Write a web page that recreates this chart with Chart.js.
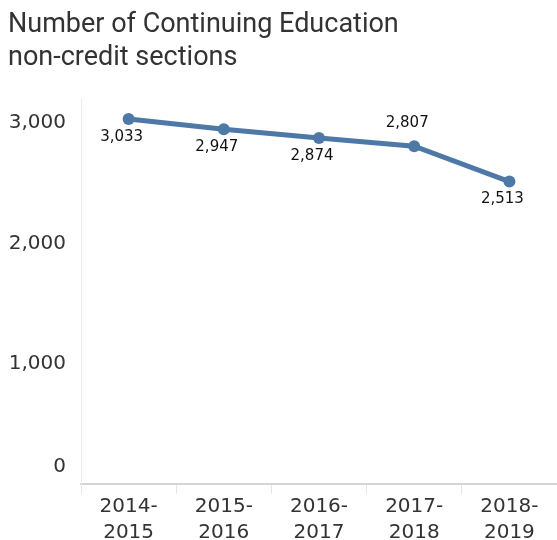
<!DOCTYPE html>
<html>
<head>
<meta charset="utf-8">
<script src="https://cdn.jsdelivr.net/npm/chart.js@4.4.1/dist/chart.umd.min.js"></script>
<style>
  html, body { margin: 0; padding: 0; background: #fff; }
  #wrap { width: 557px; height: 540px; }
</style>
</head>
<body>
<div id="wrap"><canvas id="sectionsChart"></canvas></div>
<script>
const years = [['2014-', '2015'], ['2015-', '2016'], ['2016-', '2017'], ['2017-', '2018'], ['2018-', '2019']];
const sections = [3033, 2947, 2874, 2807, 2513];
// label above (-1) or below (1) the point
const labelSide = [1, 1, 1, -1, 1];
const yTicks = [0, 1000, 2000, 3000];

const blue = '#4e79a7';
const textColor = '#333333';
const tickFont = '"DejaVu Sans", sans-serif';

// draws the value labels and the lifted "0" tick
const valueLabels = {
    id: 'valueLabels',
    afterDatasetsDraw(chart) {
        const ctx = chart.ctx;
        const meta = chart.getDatasetMeta(0);
        ctx.save();
        ctx.font = '15px ' + tickFont;
        ctx.fillStyle = '#111';
        ctx.textAlign = 'center';
        ctx.textBaseline = 'middle';
        meta.data.forEach(function(pt, i) {
            const dy = labelSide[i] > 0 ? 18 : -23;
            ctx.fillText(sections[i].toLocaleString('en-US'), pt.x - 7, pt.y + dy);
        });
        const y = chart.scales.y;
        ctx.font = '20px ' + tickFont;
        ctx.fillStyle = textColor;
        ctx.textAlign = 'right';
        ctx.textBaseline = 'middle';
        ctx.fillText('0', y.right - 15, y.getPixelForValue(0) - 17);
        ctx.restore();
    }
};

const ctx = document.getElementById('sectionsChart').getContext('2d');
const chart = new Chart(ctx, {
    type: 'line',
    data: {
        labels: years,
        datasets: [{
            data: sections,
            borderColor: blue,
            backgroundColor: blue,
            borderWidth: 5,
            pointRadius: 6,
            pointHoverRadius: 6,
            pointBorderWidth: 0,
            tension: 0
        }]
    },
    options: {
        responsive: true,
        maintainAspectRatio: false,
        animation: false,
        layout: { autoPadding: false, padding: { left: 8, right: 0, top: 0, bottom: 0 } },
        plugins: {
            legend: { display: false },
            tooltip: { enabled: false },
            title: {
                display: true,
                align: 'start',
                text: ['Number of Continuing Education', 'non-credit sections'],
                color: textColor,
                font: { family: 'Roboto', size: 27, weight: 'normal', lineHeight: 1.22 },
                padding: { top: 9, bottom: 24 }
            }
        },
        scales: {
            x: {
                offset: true,
                grid: {
                    offset: true,
                    drawOnChartArea: false,
                    color: '#e6e6e6',
                    tickLength: 10
                },
                border: { color: '#d4d4d4', width: 2 },
                ticks: {
                    color: textColor,
                    font: { family: tickFont, size: 20, lineHeight: 1.3 },
                    padding: 0,
                    maxRotation: 0
                },
                afterFit(scale) { scale.height = 56; }
            },
            y: {
                min: 0,
                max: 3200,
                grid: { display: false, drawTicks: false },
                border: { color: '#ececec', width: 1 },
                ticks: {
                    color: textColor,
                    font: { family: tickFont, size: 20 },
                    padding: 15,
                    callback: function(v) { return v === 0 ? '' : v.toLocaleString('en-US'); }
                },
                afterBuildTicks(scale) {
                    scale.ticks = yTicks.map(function(v) { return { value: v }; });
                },
                afterFit(scale) { scale.width = 73; }
            }
        }
    },
    plugins: [valueLabels]
});
</script>
</body>
</html>
